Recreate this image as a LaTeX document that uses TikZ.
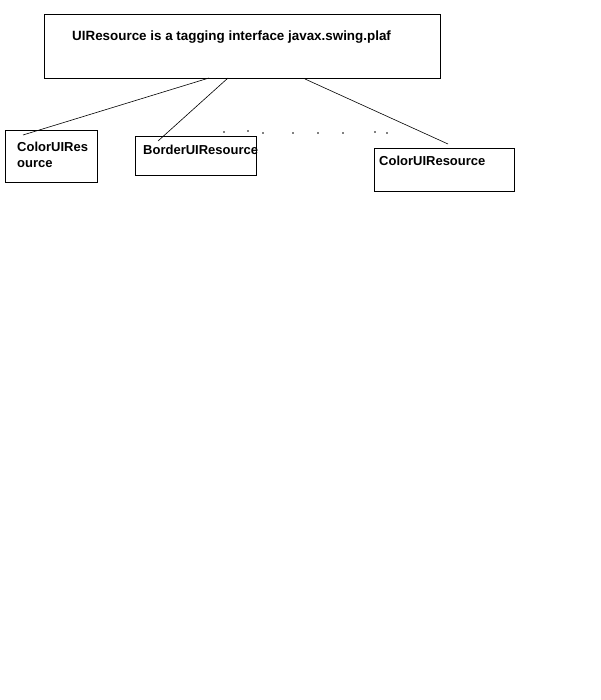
\documentclass[tikz,border=0pt]{standalone}
\usepackage{fontspec}
\setmainfont{Liberation Sans}
\begin{document}
\begin{tikzpicture}[x=1pt,y=-1pt,
  box/.style={draw, line width=0.8pt, rectangle, anchor=north west, inner sep=0pt},
  boxtext/.style={anchor=west, inner sep=0pt, font=\fontsize{13}{16}\selectfont\bfseries, align=left}]
				  \useasboundingbox (0,0) rectangle (600,700);
				  \node[box, minimum width=396pt, minimum height=64pt] (iface) at (44,14) {};
				  \node[box, minimum width=92pt, minimum height=52pt] (colorA) at (5,130) {};
				  \node[box, minimum width=121pt, minimum height=39pt] (border) at (135,136) {};
				  \node[box, minimum width=140pt, minimum height=43pt] (colorB) at (374,148) {};
				  \node[boxtext, font=\fontsize{13.4}{16}\selectfont\bfseries] (ifacetext) at (72,37) {UIResource is a tagging interface javax.swing.plaf};
				  \node[boxtext, anchor=north west] (colorAtext) at (17,142) {ColorUIRes\\ource};
				  \node[boxtext] (bordertext) at (143,150) {BorderUIResource};
				  \node[boxtext] (colorBtext) at (379,161) {ColorUIResource};
				  \coordinate (1) at (209,78);
				  \coordinate (2) at (228,78);
				  \coordinate (3) at (305,79);
				  \coordinate (1e) at (23,135);
				  \coordinate (2e) at (158,141);
				  \coordinate (3e) at (448,144);
				  \draw[line width=0.6pt] (1) -- (1e);
				  \draw[line width=0.6pt] (2) -- (2e);
				  \draw[line width=0.6pt] (3) -- (3e);
				  \foreach \dx/\dy in {224/132, 248/131, 263/133, 293/133, 318/133, 343/133, 375/132, 387/133}
				    \fill (\dx,\dy) circle (0.9pt);
				\end{tikzpicture}
\end{document}
